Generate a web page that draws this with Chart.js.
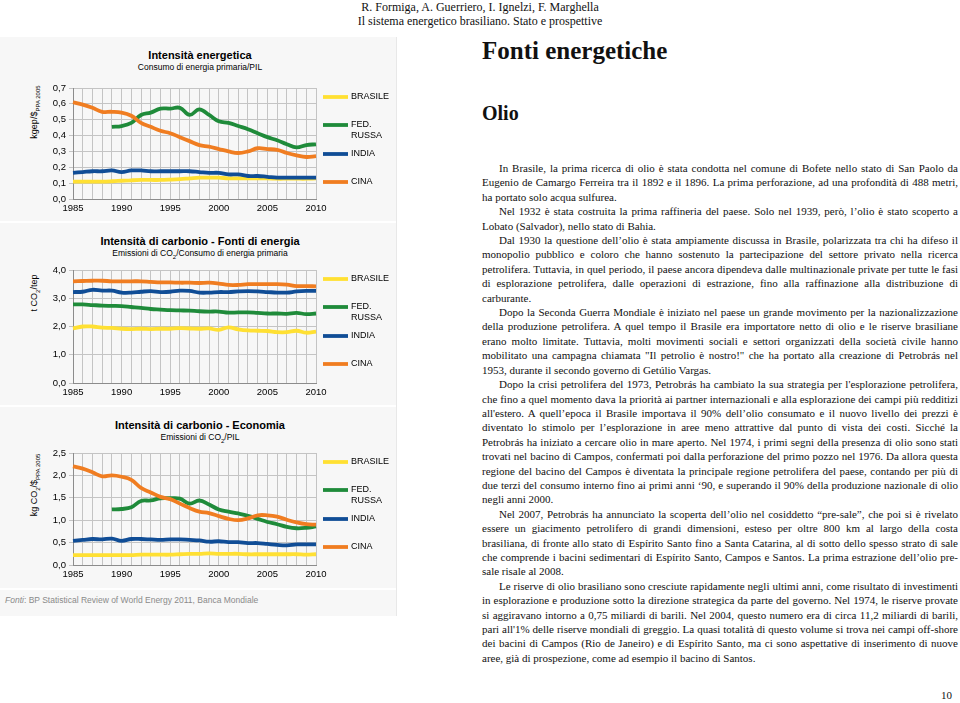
<!DOCTYPE html>
<html lang="it">
<head>
<meta charset="utf-8">
<title>Fonti energetiche</title>
<script src="https://cdn.jsdelivr.net/npm/chart.js@4.4.1/dist/chart.umd.min.js"></script>
<style>
  body { margin: 0; width: 960px; height: 703px; background: #fff; position: relative; overflow: hidden; }
  .abs { position: absolute; }
  #pannello { left: 0; top: 37px; width: 396px; height: 579px; background: #f7f7f7; border-right: 1px solid #e8e8e8; }
  .divisore { left: 0; width: 396px; height: 2px; background: #fff; }
  .titolo { left: 0; width: 400px; text-align: center; font-family: "Liberation Sans", Arial, sans-serif; color: #000; }
  .titolo b { font-size: 11px; display: block; line-height: 13px; }
  .titolo span { font-size: 8.5px; display: block; line-height: 11px; }
  .asse { font-family: "Liberation Sans", Arial, sans-serif; font-size: 9px; white-space: nowrap;
          transform: translate(-50%, -50%) rotate(-90deg); }
  .asse sub { font-size: 6px; }
  canvas { position: absolute; left: 0; }
  #fonte { left: 5px; top: 595px; font-family: "Liberation Sans", Arial, sans-serif; font-size: 8.5px; color: #8a8a8a; }
  .serif { font-family: "Liberation Serif", "Times New Roman", serif; color: #111; }
  #intestazione { left: 0; width: 960px; top: 0px; text-align: center; font-size: 12px; line-height: 14px; }
  #h1 { left: 482px; top: 37px; font-size: 25px; font-weight: bold; margin: 0; }
  #h2 { left: 482px; top: 102px; font-size: 20px; font-weight: bold; margin: 0; }
  #testo { left: 482px; top: 161px; width: 476px; font-size: 11px; line-height: 14.4px; }
  #testo div { text-align: justify; text-align-last: justify; white-space: nowrap; }
  #testo div.ind { text-indent: 17px; }
  #testo div.fine { text-align-last: left; }
  #pagina { left: 941px; top: 689px; font-size: 11px; }
</style>
</head>
<body>
<div id="pannello" class="abs"></div>
<div class="abs divisore" style="top:221px"></div>
<div class="abs divisore" style="top:405px"></div>
<div class="abs divisore" style="top:588px"></div>

<div class="abs titolo" style="top:49px"><b>Intensità energetica</b><span>Consumo di energia primaria/PIL</span></div>
<div class="abs titolo" style="top:235px"><b>Intensità di carbonio - Fonti di energia</b><span>Emissioni di CO<sub style="font-size:6px">2</sub>/Consumo di energia primaria</span></div>
<div class="abs titolo" style="top:419px"><b>Intensità di carbonio - Economia</b><span>Emissioni di CO<sub style="font-size:6px">2</sub>/PIL</span></div>

<div class="abs asse" style="left:35px; top:112px">kgep/$<sub>PPA 2005</sub></div>
<div class="abs asse" style="left:35px; top:293px">t CO<sub>2</sub>/tep</div>
<div class="abs asse" style="left:35px; top:485px">kg CO<sub>2</sub>/$<sub>PPA 2005</sub></div>

<canvas id="chartEnergia" width="396" height="141" style="top:78px"></canvas>
<canvas id="chartFonti" width="396" height="143" style="top:260px"></canvas>
<canvas id="chartEconomia" width="396" height="142" style="top:443px"></canvas>

<div id="fonte" class="abs"><i>Fonti</i>: BP Statistical Review of World Energy 2011, Banca Mondiale</div>

<div id="intestazione" class="abs serif">R. Formiga, A. Guerriero, I. Ignelzi, F. Marghella<br>Il sistema energetico brasiliano. Stato e prospettive</div>
<div id="h1" class="abs serif">Fonti energetiche</div>
<div id="h2" class="abs serif">Olio</div>

<div id="testo" class="abs serif">
  <div class="ind">In Brasile, la prima ricerca di olio è stata condotta nel comune di Bofete nello stato di San Paolo da</div>
  <div>Eugenio de Camargo Ferreira tra il 1892 e il 1896. La prima perforazione, ad una profondità di 488 metri,</div>
  <div class="fine">ha portato solo acqua sulfurea.</div>
  <div class="ind">Nel 1932 è stata costruita la prima raffineria del paese. Solo nel 1939, però, l’olio è stato scoperto a</div>
  <div class="fine">Lobato (Salvador), nello stato di Bahia.</div>
  <div class="ind">Dal 1930 la questione dell’olio è stata ampiamente discussa in Brasile, polarizzata tra chi ha difeso il</div>
  <div>monopolio pubblico e coloro che hanno sostenuto la partecipazione del settore privato nella ricerca</div>
  <div>petrolifera. Tuttavia, in quel periodo, il paese ancora dipendeva dalle multinazionale private per tutte le fasi</div>
  <div>di esplorazione petrolifera, dalle operazioni di estrazione, fino alla raffinazione alla distribuzione di</div>
  <div class="fine">carburante.</div>
  <div class="ind">Dopo la Seconda Guerra Mondiale è iniziato nel paese un grande movimento per la nazionalizzazione</div>
  <div>della produzione petrolifera. A quel tempo il Brasile era importatore netto di olio e le riserve brasiliane</div>
  <div>erano molto limitate. Tuttavia, molti movimenti sociali e settori organizzati della società civile hanno</div>
  <div>mobilitato una campagna chiamata "Il petrolio è nostro!" che ha portato alla creazione di Petrobrás nel</div>
  <div class="fine">1953, durante il secondo governo di Getúlio Vargas.</div>
  <div class="ind">Dopo la crisi petrolifera del 1973, Petrobrás ha cambiato la sua strategia per l'esplorazione petrolifera,</div>
  <div>che fino a quel momento dava la priorità ai partner internazionali e alla esplorazione dei campi più redditizi</div>
  <div>all'estero. A quell’epoca il Brasile importava il 90% dell’olio consumato e il nuovo livello dei prezzi è</div>
  <div>diventato lo stimolo per l’esplorazione in aree meno attrattive dal punto di vista dei costi. Sicché la</div>
  <div>Petrobrás ha iniziato a cercare olio in mare aperto. Nel 1974, i primi segni della presenza di olio sono stati</div>
  <div>trovati nel bacino di Campos, confermati poi dalla perforazione del primo pozzo nel 1976. Da allora questa</div>
  <div>regione del bacino del Campos è diventata la principale regione petrolifera del paese, contando per più di</div>
  <div>due terzi del consumo interno fino ai primi anni ‘90, e superando il 90% della produzione nazionale di olio</div>
  <div class="fine">negli anni 2000.</div>
  <div class="ind">Nel 2007, Petrobrás ha annunciato la scoperta dell’olio nel cosiddetto “pre-sale”, che poi si è rivelato</div>
  <div>essere un giacimento petrolifero di grandi dimensioni, esteso per oltre 800 km al largo della costa</div>
  <div>brasiliana, di fronte allo stato di Espírito Santo fino a Santa Catarina, al di sotto dello spesso strato di sale</div>
  <div>che comprende i bacini sedimentari di Espírito Santo, Campos e Santos. La prima estrazione dell’olio pre-</div>
  <div class="fine">sale risale al 2008.</div>
  <div class="ind">Le riserve di olio brasiliano sono cresciute rapidamente negli ultimi anni, come risultato di investimenti</div>
  <div>in esplorazione e produzione sotto la direzione strategica da parte del governo. Nel 1974, le riserve provate</div>
  <div>si aggiravano intorno a 0,75 miliardi di barili. Nel 2004, questo numero era di circa 11,2 miliardi di barili,</div>
  <div>pari all'1% delle riserve mondiali di greggio. La quasi totalità di questo volume si trova nei campi off-shore</div>
  <div>dei bacini di Campos (Rio de Janeiro) e di Espírito Santo, ma ci sono aspettative di inserimento di nuove</div>
  <div class="fine">aree, già di prospezione, come ad esempio il bacino di Santos.</div>
</div>
<div id="pagina" class="abs serif">10</div>

<script>
// Dati
const anni = [1985, 1986, 1987, 1988, 1989, 1990, 1991, 1992, 1993, 1994, 1995, 1996, 1997,
  1998, 1999, 2000, 2001, 2002, 2003, 2004, 2005, 2006, 2007, 2008, 2009, 2010];
const paesi = ["BRASILE", "FED. RUSSA", "INDIA", "CINA"];
const colori = ["#ffe033", "#1f8b3a", "#104d96", "#f07d21"];

// Intensità energetica (kgep/$ PPA 2005)
const energiaBrasile = [0.11, 0.11, 0.11, 0.11, 0.112, 0.115, 0.118, 0.12, 0.12, 0.12, 0.122, 0.125, 0.13,
  0.135, 0.135, 0.135, 0.13, 0.13, 0.13, 0.13, 0.13, 0.128, 0.128, 0.128, 0.128, 0.13];
const energiaRussia = [null, null, null, null, 0.455, 0.46, 0.48, 0.53, 0.545, 0.57, 0.57, 0.575, 0.53,
  0.565, 0.53, 0.49, 0.48, 0.46, 0.44, 0.415, 0.39, 0.37, 0.345, 0.325, 0.34, 0.345];
const energiaIndia = [0.165, 0.17, 0.175, 0.175, 0.18, 0.17, 0.18, 0.18, 0.175, 0.175, 0.175, 0.175, 0.175,
  0.17, 0.165, 0.165, 0.155, 0.155, 0.145, 0.145, 0.14, 0.135, 0.135, 0.135, 0.135, 0.135];
const energiaCina = [0.61, 0.595, 0.575, 0.55, 0.55, 0.545, 0.525, 0.48, 0.455, 0.43, 0.415, 0.39, 0.365,
  0.34, 0.33, 0.315, 0.3, 0.29, 0.3, 0.32, 0.315, 0.31, 0.29, 0.275, 0.265, 0.27];

// Intensità di carbonio - Fonti di energia (t CO2/tep)
const fontiBrasile = [1.93, 2.0, 2.0, 1.96, 1.95, 1.92, 1.91, 1.92, 1.91, 1.92, 1.92, 1.94, 1.93,
  1.92, 1.93, 1.88, 1.97, 1.9, 1.86, 1.85, 1.84, 1.8, 1.8, 1.85, 1.78, 1.82];
const fontiRussia = [2.78, 2.78, 2.76, 2.74, 2.73, 2.72, 2.69, 2.66, 2.62, 2.6, 2.58, 2.57, 2.56,
  2.54, 2.53, 2.53, 2.49, 2.5, 2.5, 2.48, 2.46, 2.46, 2.45, 2.48, 2.44, 2.46];
const fontiIndia = [3.22, 3.23, 3.3, 3.27, 3.27, 3.2, 3.2, 3.23, 3.25, 3.22, 3.23, 3.27, 3.26,
  3.2, 3.2, 3.22, 3.22, 3.24, 3.25, 3.24, 3.22, 3.2, 3.2, 3.24, 3.26, 3.26];
const fontiCina = [3.6, 3.61, 3.62, 3.62, 3.6, 3.6, 3.6, 3.6, 3.58, 3.56, 3.56, 3.55, 3.55,
  3.54, 3.55, 3.52, 3.47, 3.47, 3.5, 3.5, 3.5, 3.5, 3.48, 3.43, 3.43, 3.42];

// Intensità di carbonio - Economia (kg CO2/$ PPA 2005)
const economiaBrasile = [0.22, 0.22, 0.22, 0.22, 0.22, 0.22, 0.22, 0.23, 0.23, 0.23, 0.23, 0.24, 0.25,
  0.25, 0.26, 0.25, 0.25, 0.25, 0.24, 0.24, 0.24, 0.24, 0.24, 0.24, 0.23, 0.24];
const economiaRussia = [null, null, null, null, 1.24, 1.25, 1.29, 1.43, 1.44, 1.49, 1.49, 1.48, 1.37,
  1.44, 1.35, 1.24, 1.19, 1.15, 1.1, 1.03, 0.96, 0.91, 0.85, 0.82, 0.83, 0.86];
const economiaIndia = [0.54, 0.56, 0.58, 0.57, 0.59, 0.54, 0.58, 0.58, 0.57, 0.56, 0.57, 0.57, 0.56,
  0.55, 0.52, 0.53, 0.51, 0.51, 0.49, 0.49, 0.47, 0.45, 0.44, 0.46, 0.46, 0.46];
const economiaCina = [2.2, 2.15, 2.07, 1.98, 2.0, 1.97, 1.9, 1.72, 1.62, 1.52, 1.47, 1.37, 1.27,
  1.19, 1.16, 1.09, 1.03, 1.0, 1.04, 1.11, 1.11, 1.08, 1.01, 0.95, 0.91, 0.9];

Chart.defaults.font.family = '"Liberation Sans", Arial, sans-serif';
Chart.defaults.color = "#000";

// legenda a destra, come nel grafico Excel
const legendaDestra = {
  id: "legendaDestra",
  afterDraw(chart) {
    const { ctx, chartArea } = chart;
    const scarti = [9, 37, 66, 94];
    ctx.save();
    ctx.font = '9px "Liberation Sans", Arial, sans-serif';
    ctx.textBaseline = "middle";
    chart.data.datasets.forEach((ds, i) => {
      const y = chartArea.top + scarti[i];
      ctx.strokeStyle = ds.borderColor;
      ctx.lineWidth = 3.8;
      ctx.beginPath();
      ctx.moveTo(chartArea.right + 7, y);
      ctx.lineTo(chartArea.right + 32, y);
      ctx.stroke();
      ctx.fillStyle = "#000";
      ds.label.split(" ").forEach((riga, r) => {
        ctx.fillText(riga, chartArea.right + 35, y + r * 10.5);
      });
    });
    ctx.restore();
  }
};

function creaGrafico(id, serie, massimo, passo) {
  return new Chart(document.getElementById(id), {
    type: "line",
    data: {
      labels: anni,
      datasets: serie.map((valori, i) => ({
        label: paesi[i],
        data: valori,
        borderColor: colori[i],
        borderWidth: 3.8,
        pointRadius: 0,
        tension: 0.4,
        spanGaps: false,
        order: 3 - i
      }))
    },
    options: {
      responsive: false,
      devicePixelRatio: 1,
      animation: false,
      layout: { padding: { top: 10, right: 80, left: 0, bottom: 0 } },
      plugins: { legend: { display: false }, tooltip: { enabled: false } },
      scales: {
        x: {
          grid: { color: "#c4c4c4", drawTicks: false },
          border: { color: "#8c8c8c" },
          ticks: {
            autoSkip: false, maxRotation: 0, padding: 4,
            font: { size: 9.5 },
            callback: (v, i) => (anni[i] % 5 === 0 ? String(anni[i]) : "")
          },
          afterFit: (s) => { s.height = 20; }
        },
        y: {
          min: 0, max: massimo,
          grid: { color: "#c4c4c4", tickLength: 4 },
          border: { color: "#8c8c8c" },
          ticks: {
            stepSize: passo, padding: 3,
            font: { size: 9.5 },
            callback: (v) => v.toFixed(1).replace(".", ",")
          },
          afterFit: (s) => { s.width = 73; }
        }
      }
    },
    plugins: [legendaDestra]
  });
}

creaGrafico("chartEnergia", [energiaBrasile, energiaRussia, energiaIndia, energiaCina], 0.7, 0.1);
creaGrafico("chartFonti", [fontiBrasile, fontiRussia, fontiIndia, fontiCina], 4, 0.5);
creaGrafico("chartEconomia", [economiaBrasile, economiaRussia, economiaIndia, economiaCina], 2.5, 0.5);
</script>
</body>
</html>
